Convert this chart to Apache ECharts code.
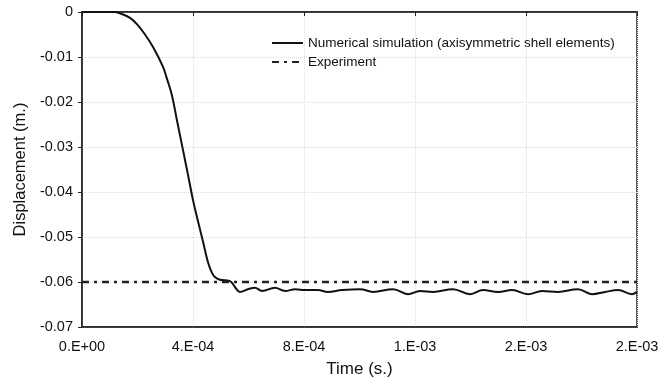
<!DOCTYPE html>
<html>
<head>
<meta charset="utf-8">
<script src="https://cdn.jsdelivr.net/npm/echarts@6/dist/echarts.min.js"></script>
<style>html,body{margin:0;padding:0;background:#fff}#c{width:672px;height:384px}</style>
</head>
<body>
<div id="c"></div>
<script>
// Time (s) of simulation curve
var simTime = [0, 0.000119, 0.000137, 0.000173, 0.000198, 0.000227, 0.000256, 0.000292, 0.000306, 0.000324,
  0.000342, 0.000364, 0.000382, 0.000400, 0.000418, 0.000436, 0.000454, 0.000468, 0.000479, 0.000497,
  0.000533, 0.000551, 0.000569, 0.000598, 0.000623, 0.000649, 0.000695, 0.000732, 0.000768, 0.000804,
  0.000850, 0.000886, 0.000937, 0.001002, 0.001049, 0.001121, 0.001175, 0.001218, 0.001265, 0.001337,
  0.001398, 0.001445, 0.001499, 0.001550, 0.001607, 0.001658, 0.001715, 0.001787, 0.001838, 0.001885,
  0.001932, 0.001982, 0.002];
// Displacement (m) of simulation curve
var simDisp = [0, 0, -0.0003, -0.0013, -0.0027, -0.0050, -0.0078, -0.0122, -0.0148, -0.0185,
  -0.0240, -0.0307, -0.0362, -0.0418, -0.0465, -0.0510, -0.0556, -0.0579, -0.0589, -0.0595,
  -0.0598, -0.0611, -0.0622, -0.0616, -0.0613, -0.0620, -0.0613, -0.0620, -0.0616, -0.0618,
  -0.0618, -0.0622, -0.0618, -0.0616, -0.0622, -0.0616, -0.0627, -0.0620, -0.0622, -0.0616,
  -0.0627, -0.0618, -0.0622, -0.0618, -0.0627, -0.0620, -0.0622, -0.0616, -0.0627, -0.0622,
  -0.0618, -0.0627, -0.0622];
// Experiment
var expTime = [0, 0.002];
var expDisp = [-0.06, -0.06];
// Tick labels (x)
var xTickLabels = ['0.E+00', '4.E-04', '8.E-04', '1.E-03', '2.E-03', '2.E-03'];
var xInterval = 0.0004;

function zip(a, b) { return a.map(function (v, i) { return [v, b[i]]; }); }

var chart = echarts.init(document.getElementById('c'), null, {renderer: 'canvas'});
var font = 'Liberation Sans, Arial, sans-serif';
chart.setOption({
  animation: false,
  textStyle: {fontFamily: font},
  grid: {left: 82, right: 35, top: 12, bottom: 57, show: true, borderColor: '#222', borderWidth: 1.5, backgroundColor: 'transparent'},
  legend: {
    orient: 'vertical', left: 266, top: 31, itemGap: 5, itemWidth: 31, itemHeight: 14,
    itemStyle: {opacity: 0},
    textStyle: {fontFamily: font, fontSize: 13.5, color: '#111'},
    data: ['Numerical simulation (axisymmetric shell elements)', 'Experiment']
  },
  xAxis: [{
    type: 'value', min: 0, max: 0.002, interval: xInterval, position: 'bottom',
    name: 'Time (s.)', nameLocation: 'middle', nameGap: 34,
    nameTextStyle: {fontFamily: font, fontSize: 17, color: '#111'},
    axisLine: {show: true, onZero: false, lineStyle: {color: '#222', width: 1.5}},
    axisTick: {show: false},
    axisLabel: {fontFamily: font, fontSize: 14.5, color: '#111', margin: 12,
      formatter: function (v) { return xTickLabels[Math.round(v / xInterval)]; }},
    splitLine: {show: true, lineStyle: {color: '#ddd', type: 'dotted', width: 1}}
  }, {
    type: 'value', min: 0, max: 0.002, interval: xInterval, position: 'top',
    axisLine: {show: true, lineStyle: {color: '#222', width: 1.5}},
    axisTick: {show: true, inside: true, length: 4, lineStyle: {color: '#222'}},
    axisLabel: {show: false}, splitLine: {show: false}
  }],
  yAxis: {
    type: 'value', min: -0.07, max: 0, interval: 0.01,
    name: 'Displacement (m.)', nameLocation: 'middle', nameGap: 52,
    nameTextStyle: {fontFamily: font, fontSize: 16.5, color: '#111'},
    axisLine: {show: true, onZero: false, lineStyle: {color: '#222', width: 1.5}},
    axisTick: {show: true, length: 4, lineStyle: {color: '#222'}},
    axisLabel: {fontFamily: font, fontSize: 14.5, color: '#111', margin: 9,
      formatter: function (v) { return Math.abs(v) < 1e-9 ? '0' : v.toFixed(2); }},
    splitLine: {show: true, lineStyle: {color: '#ddd', type: 'dotted', width: 1}}
  },
  series: [{
    name: 'Numerical simulation (axisymmetric shell elements)', type: 'line', xAxisIndex: 0,
    data: zip(simTime, simDisp), showSymbol: false, symbol: 'none', smooth: 0.4,
    lineStyle: {color: '#111', width: 2}, itemStyle: {color: '#111'}
  }, {
    name: 'Experiment', type: 'line', xAxisIndex: 0,
    data: zip(expTime, expDisp), showSymbol: false, symbol: 'none',
    lineStyle: {color: '#222', width: 2.5, type: [7, 5, 3, 5]}, itemStyle: {color: '#222'}
  }]
});
</script>
</body>
</html>
